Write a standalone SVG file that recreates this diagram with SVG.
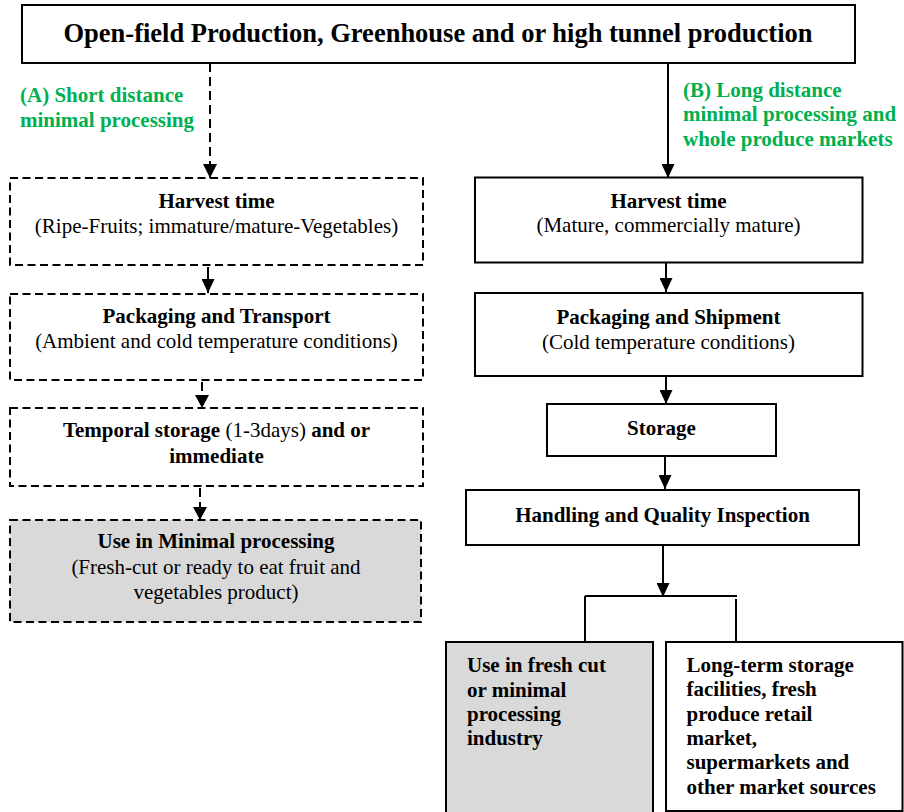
<svg xmlns="http://www.w3.org/2000/svg" width="904" height="812" viewBox="0 0 904 812">
<style>
text{font-family:"Liberation Serif","Times New Roman",serif;fill:#000;font-size:21px}
text.t{font-size:26.5px}
.b{font-weight:bold}
.c{text-anchor:middle}
.g{fill:#00b050;font-weight:bold}
.box{fill:#fff;stroke:#000;stroke-width:2}
.dbox{fill:#fff;stroke:#000;stroke-width:2;stroke-dasharray:8 4.5}
.gray{fill:#d9d9d9}
.ln{fill:none;stroke:#000;stroke-width:2}
.dln{fill:none;stroke:#000;stroke-width:2;stroke-dasharray:9 5}
</style>
<defs>
<marker id="ah" viewBox="0 0 14 13" markerWidth="14" markerHeight="13" refX="14" refY="6.5" orient="auto" markerUnits="userSpaceOnUse">
<path d="M0,0 L14,6.5 L0,13 z" fill="#000"/>
</marker>
</defs>
<g id="top">
<rect class="box" x="22" y="5" width="833" height="58"/>
<text class="t b c" x="438" y="41.5">Open-field Production, Greenhouse and or high tunnel production</text>
</g>
<g id="labels">
<text class="g" x="20" y="102">(A) Short distance</text>
<text class="g" x="20" y="127">minimal processing</text>
<text class="g" x="683" y="97">(B) Long distance</text>
<text class="g" x="683" y="121">minimal processing and</text>
<text class="g" x="683" y="146">whole produce markets</text>
</g>
<g id="connectors">
<line class="dln" x1="210" y1="63" x2="210" y2="178"/>
<line class="ln" x1="668" y1="63" x2="668" y2="178" marker-end="url(#ah)"/>
<line class="ln" x1="208" y1="267" x2="208" y2="293" marker-end="url(#ah)"/>
<line class="dln" x1="202" y1="382" x2="202" y2="408"/>
<line class="dln" x1="200" y1="488" x2="200" y2="520"/>
<line class="ln" x1="666" y1="263" x2="666" y2="292" marker-end="url(#ah)"/>
<line class="ln" x1="666" y1="376" x2="666" y2="404" marker-end="url(#ah)"/>
<line class="ln" x1="665" y1="456" x2="665" y2="489" marker-end="url(#ah)"/>
<line class="ln" x1="663" y1="545" x2="663" y2="597" marker-end="url(#ah)"/>
<line class="ln" x1="585" y1="596" x2="737" y2="596"/>
<line class="ln" x1="585" y1="596" x2="585" y2="645"/>
<line class="ln" x1="736" y1="599" x2="736" y2="642"/>
<path d="M203,164 L217,164 L210,178 z" fill="#000"/>
<path d="M195,395 L209,395 L202,408 z" fill="#000"/>
<path d="M193,507 L207,507 L200,520 z" fill="#000"/>
</g>
<g id="a-harvest">
<rect class="dbox" x="10" y="178" width="413" height="87"/>
<text class="b c" x="216.5" y="207.5">Harvest time</text>
<text class="c" x="216.5" y="233">(Ripe-Fruits; immature/mature-Vegetables)</text>
</g>
<g id="a-packaging">
<rect class="dbox" x="10" y="294" width="413" height="86"/>
<text class="b c" x="216.5" y="323">Packaging and Transport</text>
<text class="c" x="216.5" y="348">(Ambient and cold temperature conditions)</text>
</g>
<g id="a-storage">
<rect class="dbox" x="10" y="408" width="413" height="78"/>
<text class="c" x="216.5" y="437"><tspan class="b">Temporal storage </tspan>(1-3days)<tspan class="b"> and or</tspan></text>
<text class="b c" x="216.5" y="462.5">immediate</text>
</g>
<g id="a-use">
<rect class="dbox gray" x="10" y="520" width="411" height="102"/>
<text class="b c" x="216" y="548">Use in Minimal processing</text>
<text class="c" x="216" y="574">(Fresh-cut or ready to eat fruit and</text>
<text class="c" x="216" y="599">vegetables product)</text>
</g>
<g id="b-harvest">
<rect class="box" x="475" y="177.5" width="387.5" height="85"/>
<text class="b c" x="668.5" y="207.5">Harvest time</text>
<text class="c" x="668.5" y="232">(Mature, commercially mature)</text>
</g>
<g id="b-packaging">
<rect class="box" x="475" y="293" width="387.5" height="83"/>
<text class="b c" x="668.5" y="324">Packaging and Shipment</text>
<text class="c" x="668.5" y="349">(Cold temperature conditions)</text>
</g>
<g id="b-storage">
<rect class="box" x="547" y="404" width="229" height="52"/>
<text class="b c" x="661.5" y="435">Storage</text>
</g>
<g id="b-handling">
<rect class="box" x="466" y="490" width="393" height="55"/>
<text class="b c" x="662.5" y="521.5">Handling and Quality Inspection</text>
</g>
<g id="b-fresh-cut">
<rect class="box gray" x="446" y="642" width="207" height="175"/>
<text class="b" x="467" y="672">Use in fresh cut</text>
<text class="b" x="467" y="696.5">or minimal</text>
<text class="b" x="467" y="720.5">processing</text>
<text class="b" x="467" y="745">industry</text>
</g>
<g id="b-markets">
<rect class="box" x="666" y="642" width="236.5" height="169"/>
<text class="b" x="686.5" y="672">Long-term storage</text>
<text class="b" x="686.5" y="696">facilities, fresh</text>
<text class="b" x="686.5" y="720.5">produce retail</text>
<text class="b" x="686.5" y="745">market,</text>
<text class="b" x="686.5" y="769">supermarkets and</text>
<text class="b" x="686.5" y="793.5">other market sources</text>
</g>
</svg>
